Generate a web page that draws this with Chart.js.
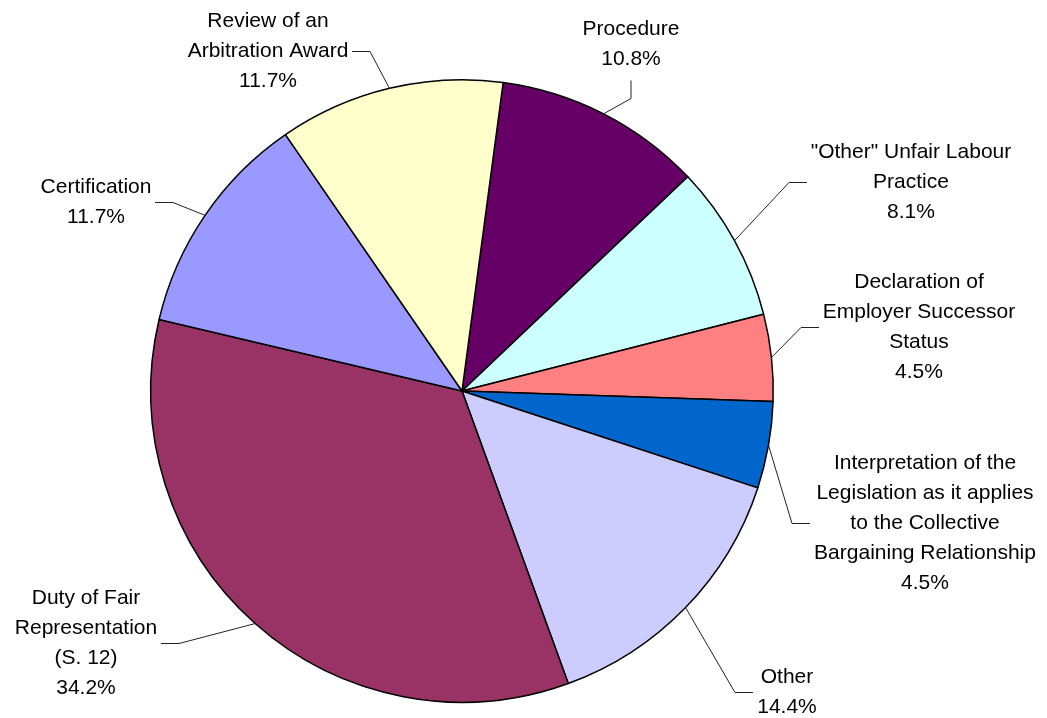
<!DOCTYPE html>
<html>
<head>
<meta charset="utf-8">
<title>Applications by Type</title>
<script src="https://cdn.jsdelivr.net/npm/chart.js@4/dist/chart.umd.min.js"></script>
<style>
  body { margin: 0; background: #fff; }
  canvas { display: block; }
</style>
</head>
<body>
<canvas id="myChart" width="1047" height="718"></canvas>
<script>
'use strict';

var categories = [
    'Procedure',
    '"Other" Unfair Labour Practice',
    'Declaration of Employer Successor Status',
    'Interpretation of the Legislation as it applies to the Collective Bargaining Relationship',
    'Other',
    'Duty of Fair Representation (S. 12)',
    'Certification',
    'Review of an Arbitration Award'
];

// how each category name wraps in its label
var labelLines = [
    ['Procedure'],
    ['"Other" Unfair Labour', 'Practice'],
    ['Declaration of', 'Employer Successor', 'Status'],
    ['Interpretation of the', 'Legislation as it applies', 'to the Collective', 'Bargaining Relationship'],
    ['Other'],
    ['Duty of Fair', 'Representation', '(S. 12)'],
    ['Certification'],
    ['Review of an', 'Arbitration Award']
];

var shares = [10.8, 8.1, 4.5, 4.5, 14.4, 34.2, 11.7, 11.7];

var sliceColours = ['#660066', '#CCFFFF', '#FF8080', '#0066CC', '#CCCCFF', '#993366', '#9999FF', '#FFFFCC'];

// label block centres and the side the leader line joins them on
var labelSpots = [
    { x: 631, y: 44, side: 'bottom' },
    { x: 911, y: 182, side: 'left' },
    { x: 919, y: 327, side: 'left' },
    { x: 925, y: 523, side: 'left' },
    { x: 787, y: 692, side: 'left' },
    { x: 86, y: 643, side: 'right' },
    { x: 96, y: 202, side: 'right' },
    { x: 268, y: 51, side: 'right' }
];

var LINE_HEIGHT = 30;
var STUB = 18;

var outsideLabels = {
    id: 'outsideLabels',
    afterDatasetsDraw: function(chart) {
        var ctx = chart.ctx;
        var arcs = chart.getDatasetMeta(0).data;
        ctx.save();
        ctx.font = '21px "Liberation Sans", Arial, sans-serif';
        ctx.fillStyle = '#000';
        ctx.textAlign = 'center';
        ctx.textBaseline = 'middle';

        arcs.forEach(function(arc, i) {
            var lines = labelLines[i].concat([shares[i].toFixed(1) + '%']);
            var spot = labelSpots[i];
            var widest = Math.max.apply(null, lines.map(function(l) { return ctx.measureText(l).width; }));

            lines.forEach(function(l, k) {
                ctx.fillText(l, spot.x, spot.y + (k - (lines.length - 1) / 2) * LINE_HEIGHT);
            });

            // leader line: slice edge -> elbow -> short stub into the label
            var p = arc.getProps(['x', 'y', 'startAngle', 'endAngle', 'outerRadius'], true);
            var mid = (p.startAngle + p.endAngle) / 2;
            var ex = p.x + p.outerRadius * Math.cos(mid);
            var ey = p.y + p.outerRadius * Math.sin(mid);
            var sx, sy, bx, by;
            if (spot.side === 'left') {
                sx = spot.x - widest / 2 - 4; sy = spot.y;
                bx = sx - STUB; by = sy;
            } else if (spot.side === 'right') {
                sx = spot.x + widest / 2 + 4; sy = spot.y;
                bx = sx + STUB; by = sy;
            } else {
                sx = spot.x; sy = spot.y + lines.length * LINE_HEIGHT / 2 + 6;
                bx = sx; by = sy + STUB;
            }
            ctx.beginPath();
            ctx.moveTo(Math.round(sx), Math.round(sy) + 0.5);
            ctx.lineTo(Math.round(bx), Math.round(by) + 0.5);
            ctx.lineTo(ex, ey);
            ctx.strokeStyle = '#222';
            ctx.lineWidth = 1;
            ctx.stroke();
        });
        ctx.restore();
    }
};

var ctx = document.getElementById('myChart');
var myChart = new Chart(ctx, {
    type: 'pie',
    data: {
        labels: categories,
        datasets: [{
            data: shares,
            backgroundColor: sliceColours,
            borderColor: '#000',
            borderWidth: 1.5
        }]
    },
    options: {
        responsive: false,
        animation: false,
        rotation: 7.6,
        layout: {
            padding: { left: 150, right: 273, top: 79, bottom: 15 }
        },
        plugins: {
            legend: { display: false },
            tooltip: { enabled: false }
        }
    },
    plugins: [outsideLabels]
});
</script>
</body>
</html>
